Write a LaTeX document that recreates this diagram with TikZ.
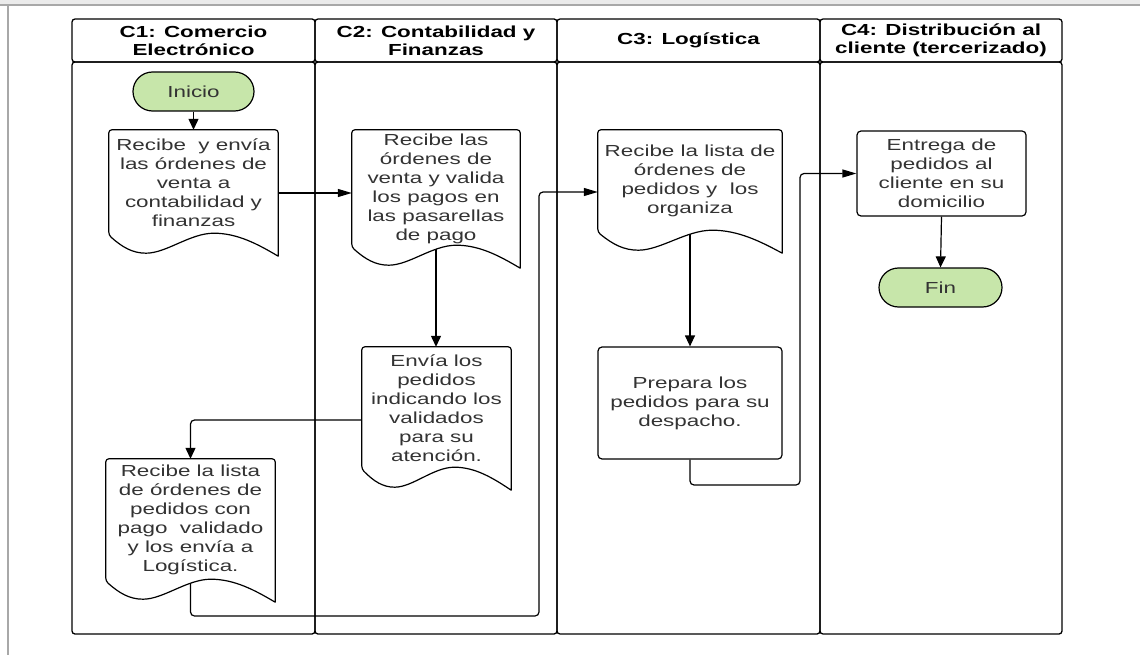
\documentclass[tikz,border=0pt]{standalone}
\usepackage{fontspec}
\setmainfont{Liberation Sans}[FakeStretch=1.4]
\usetikzlibrary{arrows.meta,calc}

\pgfdeclarelayer{lanes}
\pgfdeclarelayer{wires}
\pgfdeclarelayer{shapes}
\pgfsetlayers{lanes,wires,shapes,main}

\definecolor{termgreen}{HTML}{C7E6AA}
\definecolor{inktext}{HTML}{333333}
\definecolor{framegray}{HTML}{A8A8A8}
\definecolor{bandgray}{HTML}{EBEBEB}

\newcommand{\bodyfont}{\fontsize{16pt}{19pt}\selectfont}

\tikzset{
  lanehead/.style={draw, line width=1.3pt, rounded corners=3pt, minimum height=43pt,
    inner sep=0pt, align=center, font=\bfseries\fontsize{16pt}{18pt}\selectfont},
  lanebody/.style={draw, line width=1.3pt, rounded corners=3pt, minimum height=572pt, inner sep=0pt},
  docbox/.style={inner sep=0pt, align=center, text=inktext, font=\bodyfont},
  docline/.style={draw=black, fill=white, line width=1.2pt, line join=round},
  procbox/.style={draw, fill=white, line width=1.2pt, rounded corners=4pt, inner sep=0pt,
    align=center, text=inktext, font=\bodyfont},
  terminal/.style={draw, fill=termgreen, line width=1.2pt, rounded corners=19.5pt,
    minimum height=39pt, inner sep=0pt, text=inktext, font=\bodyfont},
  flow/.style={line width=1.2pt, rounded corners=4pt},
  tipv/.style={-{Triangle[length=11pt,width=10pt]}},
  tiph/.style={-{Triangle[length=14pt,width=8pt]}},
}

% document symbol: flat top, wavy bottom hanging below the node's south side
\newcommand{\docoutline}[1]{%
  \draw[docline] let \p1=(#1.north west), \p2=(#1.south east), \n1={\x2-\x1} in
    (\x2,{\y2-21pt}) [rounded corners=3pt] -- (\x2,\y1) -- (\x1,\y1) -- (\x1,\y2) [sharp corners]
    .. controls ({\x1+0.08*\n1},{\y2-12pt}) and ({\x1+0.14*\n1},{\y2-18pt}) .. ({\x1+0.22*\n1},{\y2-18pt})
    .. controls ({\x1+0.34*\n1},{\y2-18pt}) and ({\x1+0.48*\n1},{\y2+2pt}) .. ({\x1+0.62*\n1},{\y2+2pt})
    .. controls ({\x1+0.76*\n1},{\y2+2pt}) and ({\x1+0.88*\n1},{\y2-9pt}) .. (\x2,{\y2-21pt}) -- cycle;}

\begin{document}
\begin{tikzpicture}[x=1pt,y=1pt]
\useasboundingbox (0,0) rectangle (1140,-655);

\begin{pgfonlayer}{lanes}
  \fill[white] (0,0) rectangle (1140,-655);
  % page frame
  \fill[bandgray] (0,0) rectangle (1140,-4);
  \draw[framegray, line width=2pt] (0,-5) -- (1140,-5);
  \draw[framegray, line width=2pt] (7.5,-5) -- (7.5,-655);
  % swimlanes
  \node[lanehead, minimum width=243pt] (h1) at (193.5,-40.5) {C1: Comercio\\Electrónico};
  \node[lanebody, minimum width=243pt] (b1) at (193.5,-348) {};
  \node[lanehead, minimum width=242pt] (h2) at (436,-40.5) {C2: Contabilidad y\\Finanzas};
  \node[lanebody, minimum width=242pt] (b2) at (436,-348) {};
  \node[lanehead, minimum width=263pt] (h3) at (688.5,-40.5) {C3: Logística};
  \node[lanebody, minimum width=263pt] (b3) at (688.5,-348) {};
  \node[lanehead, minimum width=242pt] (h4) at (941,-40.5) {C4: Distribución al\\cliente (tercerizado)};
  \node[lanebody, minimum width=242pt] (b4) at (941,-348) {};
\end{pgfonlayer}

% terminals and process boxes
\node[terminal, minimum width=121pt] (ini) at (193.5,-91.5) {Inicio};
\node[terminal, minimum width=123pt] (fin) at (940.5,-287.5) {Fin};
\node[procbox, minimum width=184pt, minimum height=112pt] (p1) at (690,-403)
  {Prepara los\\pedidos para su\\despacho.};
\node[procbox, minimum width=169pt, minimum height=85pt] (p2) at (941.5,-173.5)
  {Entrega de\\pedidos al\\cliente en su\\domicilio};

% document steps
\node[docbox, minimum width=169pt, minimum height=105pt] (d1) at (193.5,-182.5)
  {Recibe~ y envía\\las órdenes de\\venta a\\contabilidad y\\finanzas};
\node[docbox, minimum width=168pt, minimum height=117pt] (d2) at (436,-188.5)
  {Recibe las\\órdenes de\\venta y valida\\los pagos en\\las pasarellas\\de pago};
\node[docbox, minimum width=184pt, minimum height=102pt] (d3) at (690,-181)
  {Recibe la lista de\\órdenes de\\pedidos y~ los\\organiza};
\node[docbox, minimum width=149pt, minimum height=122pt] (d4) at (436.5,-408)
  {Envía los\\pedidos\\indicando los\\validados\\para su\\atención.};
\node[docbox, minimum width=169pt, minimum height=122pt] (d5) at (190.5,-520)
  {Recibe la lista\\de órdenes de\\pedidos con\\pago~ validado\\y los envía a\\Logística.};

\begin{pgfonlayer}{shapes}
  \docoutline{d1}
  \docoutline{d2}
  \docoutline{d3}
  \docoutline{d4}
  \docoutline{d5}
\end{pgfonlayer}

% connectors
\begin{pgfonlayer}{wires}
  \draw[flow,tipv] (ini.south) -- (d1.north);
  \coordinate (j12) at ([yshift=-4.5pt]d2.west);
  \draw[flow,tiph] (d1.east |- j12) -- (j12);
  \draw[flow,tipv] (d2.south) -- (d2.south |- d4.north);
  \coordinate (j45) at ([yshift=-12pt]d4.west);
  \draw[flow,tipv] (j45) -| (d5.north);
  \coordinate (j53) at ([yshift=-11pt]d3.west);
  \coordinate (k1) at (539,-616);
  \draw[flow,tiph] (d5.south) |- (k1) |- (j53);
  \draw[flow,tipv] (d3.south) -- (p1.north);
  \coordinate (k2) at (800,-485);
  \draw[flow,tiph] (p1.south) |- (k2) |- (p2.west);
  \draw[flow,tipv] (p2.south) -- (fin.north);
\end{pgfonlayer}
\end{tikzpicture}
\end{document}
